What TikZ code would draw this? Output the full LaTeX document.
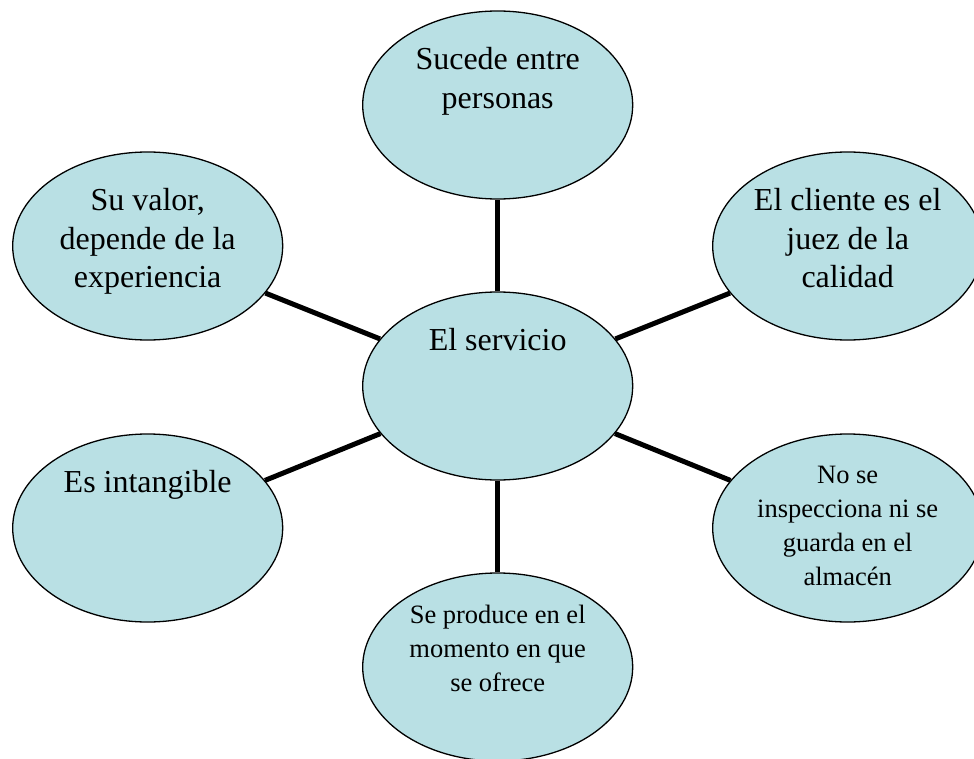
\documentclass[tikz,border=0pt]{standalone}
\usepackage{fontspec}
\setmainfont{Liberation Serif}
\usetikzlibrary{positioning,shapes.geometric}
\definecolor{bubble}{RGB}{185,224,228}

\begin{document}
\begin{tikzpicture}[x=1pt,y=1pt,
    bub/.style={ellipse,draw,fill=bubble,line width=1.3pt,minimum width=270pt,
                minimum height=188pt,inner sep=0pt,on grid},
    big/.style={font=\fontsize{32}{38.5}\selectfont,align=center,inner sep=0pt},
    small/.style={font=\fontsize{26.5}{34}\selectfont,align=center,inner sep=0pt},
    link/.style={line width=5pt}]
  \useasboundingbox (-497.7,386) rectangle (476.3,-372);

  \node[bub] (serv)   at (0,0) {};
  \node[bub] (pers)   [above=281pt of serv] {};
  \node[bub] (valor)  [above left=140pt and 350pt of serv] {};
  \node[bub] (juez)   [above right=140pt and 350pt of serv] {};
  \node[bub] (intang) [below left=142pt and 350pt of serv] {};
  \node[bub] (inspec) [below right=142pt and 350pt of serv] {};
  \node[bub] (prod)   [below=281pt of serv] {};

  \node[big]   (serv-t)   [below=37pt of serv.north]   {El servicio};
  \node[big]   (pers-t)   [below=37pt of pers.north]   {Sucede entre\\personas};
  \node[big]   (valor-t)  [below=37pt of valor.north]  {Su valor,\\depende de la\\experiencia};
  \node[big]   (juez-t)   [below=37pt of juez.north]   {El cliente es el\\juez de la\\calidad};
  \node[big]   (intang-t) [below=37pt of intang.north] {Es intangible};
  \node[small] (inspec-t) [below=33pt of inspec.north] {No se\\inspecciona ni se\\guarda en el\\almac\'en};
  \node[small] (prod-t)   [below=33pt of prod.north]   {Se produce en el\\momento en que\\se ofrece};

  \path[link] (serv) edge (pers)
              (serv) edge (valor)
              (serv) edge (juez)
              (serv) edge (intang)
              (serv) edge (inspec)
              (serv) edge (prod);
\end{tikzpicture}
\end{document}
